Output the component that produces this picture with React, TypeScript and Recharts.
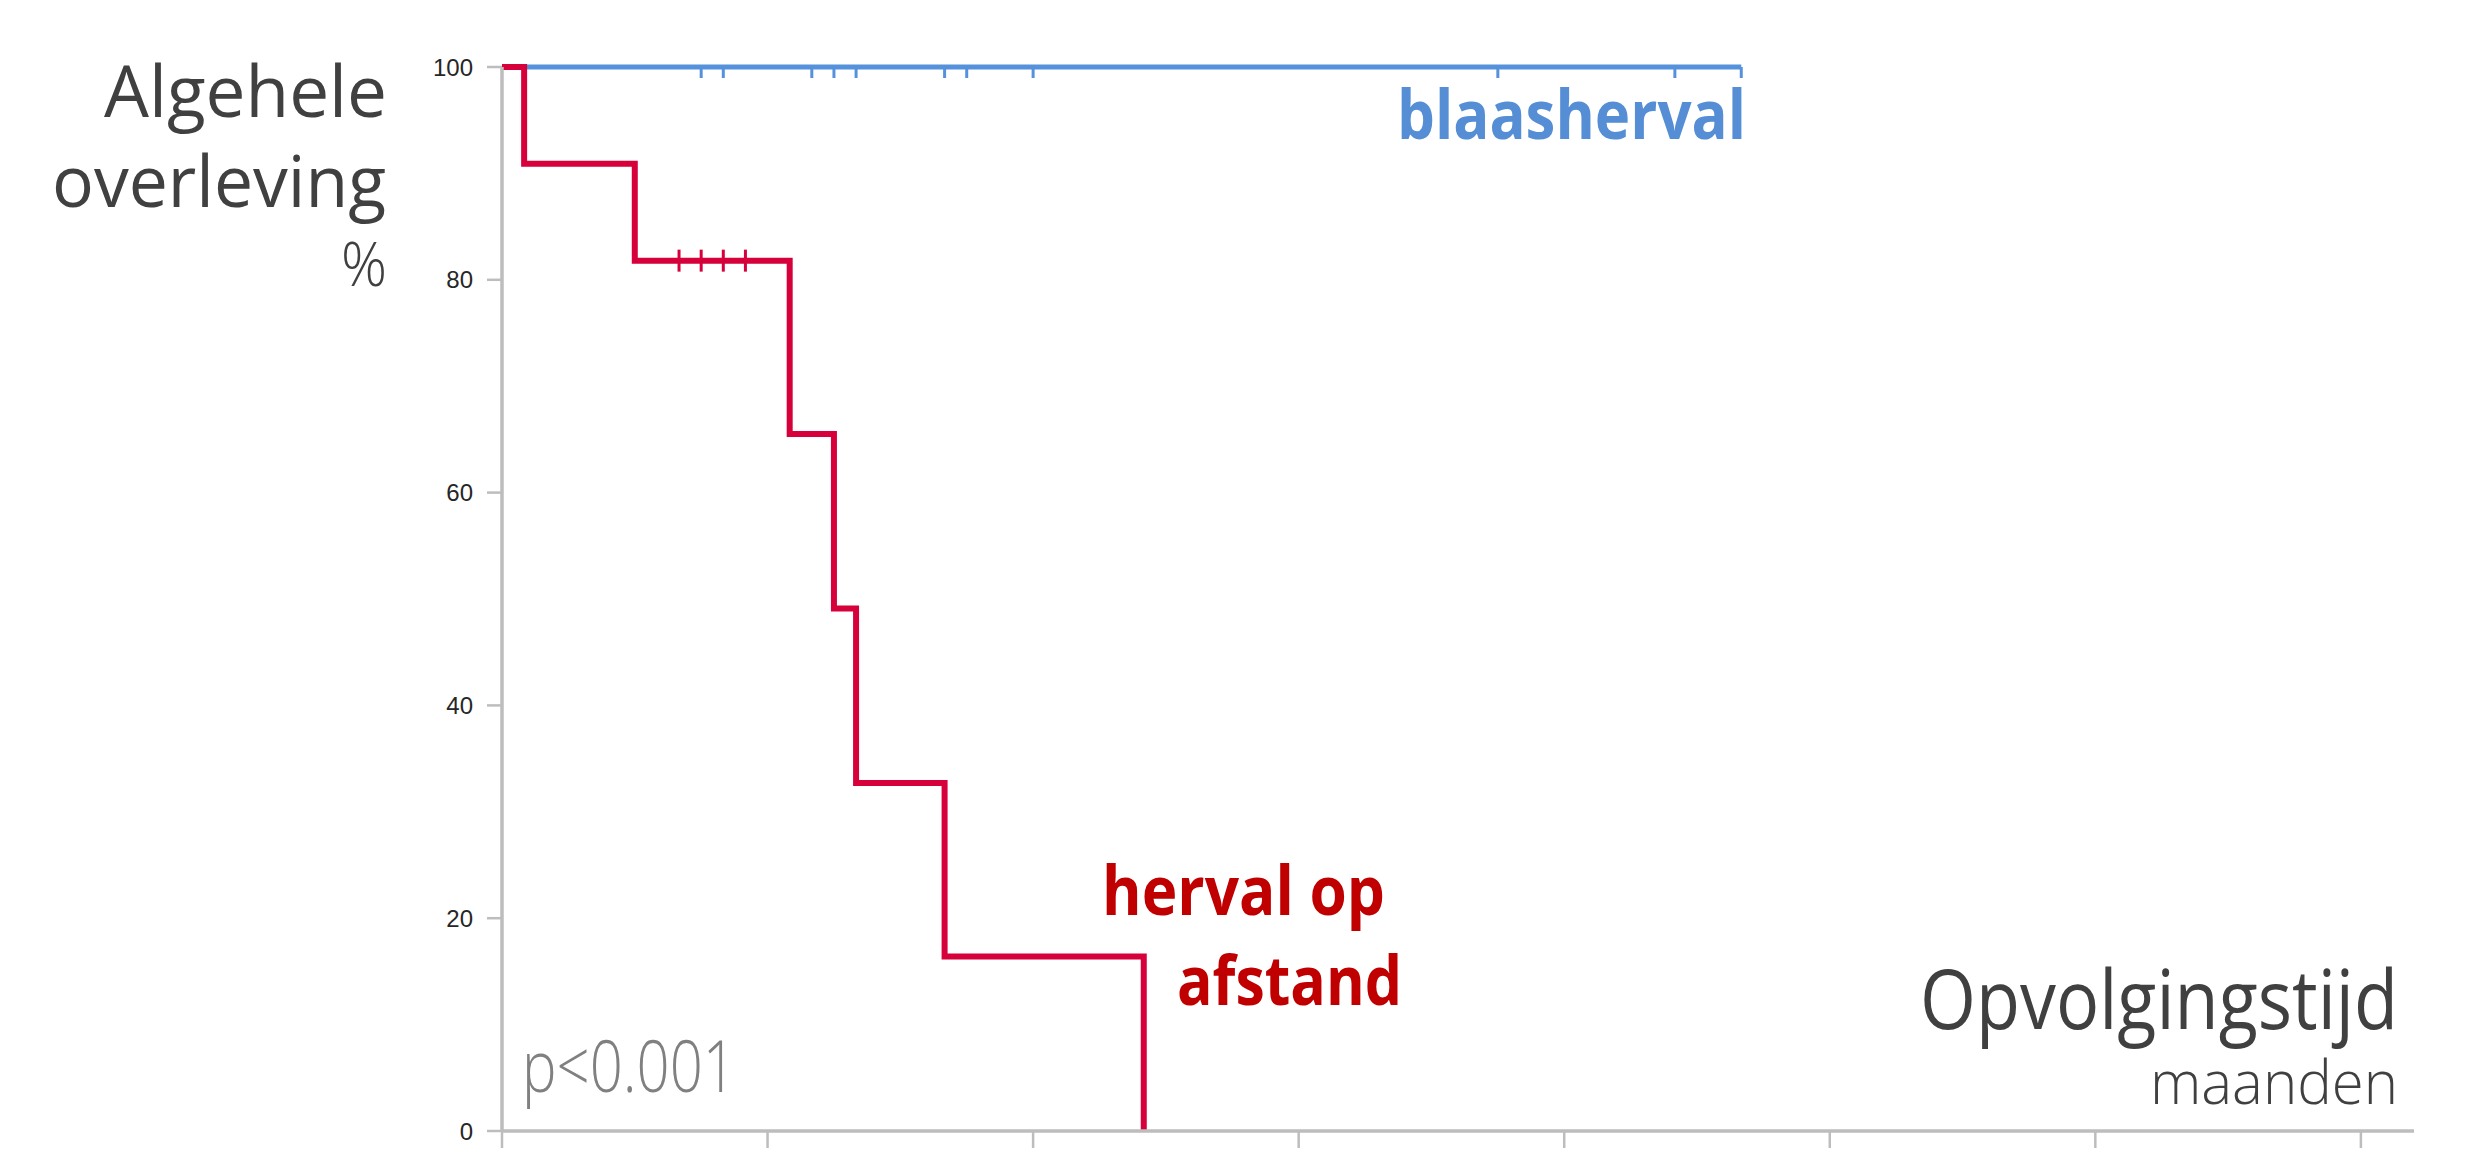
import { ComposedChart, Line, Scatter, XAxis, YAxis } from "recharts";

// Kaplan-Meier steps (months, % survival)
const redTimes = [0, 1, 6, 13, 15, 16, 20, 29];
const redSurvival = [100, 90.9, 81.8, 65.5, 49.1, 32.7, 16.4, 0];
const redCensorTimes = [8, 9, 10, 11];
const redCensorLevel = 81.8;

const blueTimes = [0, 56];
const blueSurvival = [100, 100];
const blueCensorTimes = [9, 10, 14, 15, 16, 20, 21, 24, 45, 53, 56];

const xTicks = [0, 12, 24, 36, 48, 60, 72, 84];
const yTicks = [0, 20, 40, 60, 80, 100];

const red = redTimes.map((t, i) => ({ t, s: redSurvival[i] }));
const redCensor = redCensorTimes.map((t) => ({ t, s: redCensorLevel }));
const blue = blueTimes.map((t, i) => ({ t, s: blueSurvival[i] }));
const blueCensor = blueCensorTimes.map((t) => ({ t, s: 100 }));

const RED = "#D6003B";
const BLUE = "#5592DB";
const AXIS = "#BDBDBD";
const W = 2482;
const H = 1167;

const regular = { fontFamily: "'Open Sans', sans-serif", fontWeight: 400, fill: "#404040" };
const light = { fontFamily: "'Open Sans', sans-serif", fontWeight: 300, fill: "#404040" };
const bold = { fontFamily: "'Open Sans', sans-serif", fontWeight: 700 };

function RedTick(props: any) {
  const { cx, cy } = props;
  return <line x1={cx} x2={cx} y1={cy - 11} y2={cy + 11} stroke={RED} strokeWidth={3} />;
}

function BlueTick(props: any) {
  const { cx, cy } = props;
  return <line x1={cx} x2={cx} y1={cy} y2={cy + 11} stroke={BLUE} strokeWidth={3} />;
}

export default function App() {
  return (
    <div style={{ position: "absolute", left: 0, top: 0, width: W, height: H, background: "#fff" }}>
      <ComposedChart width={W} height={H} margin={{ top: 67, right: 68, bottom: 6, left: 422 }}>
        <XAxis
          type="number"
          dataKey="t"
          domain={[0, 86.4]}
          ticks={xTicks}
          tickFormatter={() => ""}
          tickSize={17}
          height={30}
          axisLine={{ stroke: AXIS, strokeWidth: 3.5 }}
          tickLine={{ stroke: AXIS, strokeWidth: 2.5 }}
        />
        <YAxis
          type="number"
          dataKey="s"
          domain={[0, 100]}
          ticks={yTicks}
          width={80}
          tickSize={15}
          tickMargin={14}
          axisLine={{ stroke: AXIS, strokeWidth: 3.5 }}
          tickLine={{ stroke: AXIS, strokeWidth: 2.5 }}
          tick={{ fontSize: 24, fill: "#262626", fontFamily: "'Liberation Sans', Arial, sans-serif" }}
        />
        <Line
          data={blue}
          dataKey="s"
          type="stepAfter"
          stroke={BLUE}
          strokeWidth={5}
          dot={false}
          isAnimationActive={false}
        />
        <Scatter data={blueCensor} dataKey="s" shape={BlueTick} isAnimationActive={false} />
        <Line
          data={red}
          dataKey="s"
          type="stepAfter"
          stroke={RED}
          strokeWidth={6}
          dot={false}
          isAnimationActive={false}
        />
        <Scatter data={redCensor} dataKey="s" shape={RedTick} isAnimationActive={false} />
      </ComposedChart>
      <svg width={W} height={H} style={{ position: "absolute", left: 0, top: 0, pointerEvents: "none" }}>
        <text x={104} y={117} fontSize={72} textLength={283} lengthAdjust="spacingAndGlyphs" style={regular}>
          Algehele
        </text>
        <text x={52} y={207} fontSize={72} textLength={334} lengthAdjust="spacingAndGlyphs" style={regular}>
          overleving
        </text>
        <text x={341} y={286} fontSize={60} textLength={46} lengthAdjust="spacingAndGlyphs" style={light}>
          %
        </text>
        <text x={1397} y={139} fontSize={68} textLength={349} lengthAdjust="spacingAndGlyphs" style={{ ...bold, fill: "#558ED5" }}>
          blaasherval
        </text>
        <text x={1102} y={915} fontSize={68} textLength={283} lengthAdjust="spacingAndGlyphs" style={{ ...bold, fill: "#C00000" }}>
          herval op
        </text>
        <text x={1177} y={1005} fontSize={68} textLength={225} lengthAdjust="spacingAndGlyphs" style={{ ...bold, fill: "#C00000" }}>
          afstand
        </text>
        <text x={1920} y={1029} fontSize={82} textLength={478} lengthAdjust="spacingAndGlyphs" style={regular}>
          Opvolgingstijd
        </text>
        <text x={2150} y={1104} fontSize={60} textLength={248} lengthAdjust="spacingAndGlyphs" style={light}>
          maanden
        </text>
        <text x={522} y={1092} fontSize={72} textLength={214} lengthAdjust="spacingAndGlyphs" style={{ ...light, fill: "#808080" }}>
          p&lt;0.001
        </text>
      </svg>
    </div>
  );
}
